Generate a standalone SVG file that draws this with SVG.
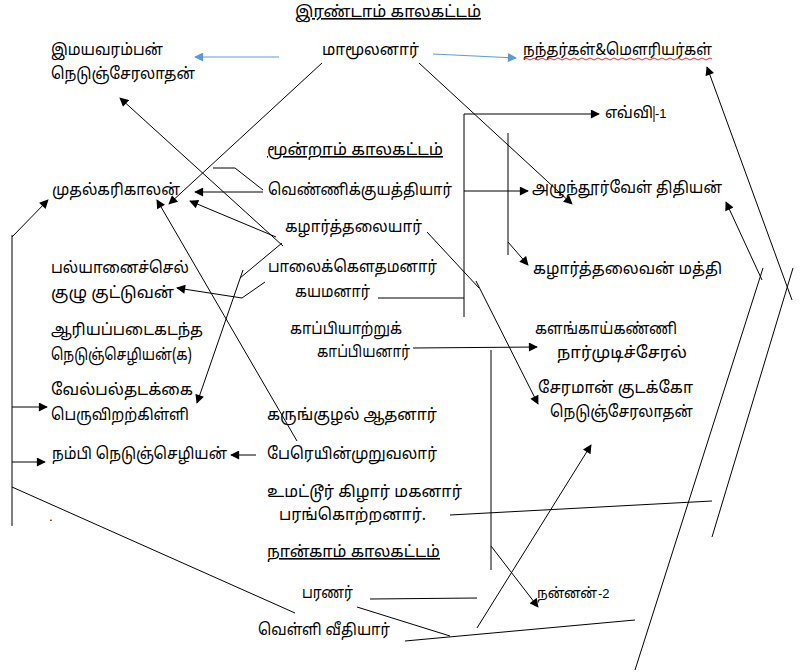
<svg xmlns="http://www.w3.org/2000/svg" width="803" height="672" viewBox="0 0 803 672">
<defs>
<marker id="ah" viewBox="0 0 10 10" refX="9" refY="5" markerWidth="10" markerHeight="9" markerUnits="userSpaceOnUse" orient="auto"><path d="M0,0 L10,5 L0,10 Z" fill="#000"/></marker>
<marker id="ahb" viewBox="0 0 10 10" refX="9" refY="5" markerWidth="12" markerHeight="9" markerUnits="userSpaceOnUse" orient="auto"><path d="M0,0 L10,5 L0,10 Z" fill="#5b9bd5"/></marker>
</defs>
<style>
text{font-family:"Noto Sans Tamil","Latha","Noto Sans","DejaVu Sans",sans-serif;font-size:16px;fill:#000}
.sm{font-family:"Liberation Sans",Arial,sans-serif;font-size:13px}
.ul{text-decoration:underline}
line,polyline{stroke:#000;stroke-width:1;fill:none}
.a{marker-end:url(#ah)}
.b{stroke:#5b9bd5;marker-end:url(#ahb)}
</style>
<rect width="803" height="672" fill="#fff"/>
<g id="headings">
<text id="h2" x="295" y="17" class="ul" textLength="186" lengthAdjust="spacingAndGlyphs">இரண்டாம் காலகட்டம்</text>
<text id="h3" x="267" y="155" class="ul" textLength="176" lengthAdjust="spacingAndGlyphs">மூன்றாம் காலகட்டம்</text>
<text id="h4" x="267" y="557" class="ul" textLength="173" lengthAdjust="spacingAndGlyphs">நான்காம் காலகட்டம்</text>
</g>
<g id="n-imayavaramban"><text x="51" y="55" textLength="112" lengthAdjust="spacingAndGlyphs">இமயவரம்பன்</text><text x="51" y="79" textLength="144" lengthAdjust="spacingAndGlyphs">நெடுஞ்சேரலாதன்</text></g>
<g id="n-mamulanar"><text x="322" y="55" textLength="97" lengthAdjust="spacingAndGlyphs">மாமூலனார்</text></g>
<g id="n-nandar"><text x="523" y="55" textLength="189" lengthAdjust="spacingAndGlyphs">நந்தர்கள்&amp;மௌரியர்கள்</text><path d="M524,59 q2,-2 4,0 t4,0 t4,0 t4,0 t4,0 t4,0 t4,0 t4,0 t4,0 t4,0 t4,0 t4,0 t4,0 t4,0 t4,0 t4,0 t4,0 t4,0 t4,0 t4,0 t4,0 t4,0 t4,0 t4,0 t4,0 t4,0 t4,0 t4,0 t4,0 t4,0 t4,0 t4,0 t4,0 t4,0 t4,0 t4,0 t4,0 t4,0 t4,0 t4,0 t4,0 t4,0 t4,0 t4,0 t4,0 t4,0 t4,0" stroke="#e03030" stroke-width="1" fill="none"/></g>
<g id="n-evvi"><text x="605" y="118" textLength="48" lengthAdjust="spacingAndGlyphs">எவ்வி</text><line x1="654" y1="106" x2="654" y2="122" stroke="#000"/><text x="655" y="118" class="sm">-1</text></g>
<g id="n-mudhalkarikalan"><text x="52" y="195" textLength="128" lengthAdjust="spacingAndGlyphs">முதல்கரிகாலன்</text></g>
<g id="n-venni"><text x="268" y="195" textLength="184" lengthAdjust="spacingAndGlyphs">வெண்ணிக்குயத்தியார்</text></g>
<g id="n-azhundur"><text x="532" y="193" textLength="190" lengthAdjust="spacingAndGlyphs">அழுந்தூர்வேள் திதியன்</text></g>
<g id="n-kazhar"><text x="285" y="232" textLength="137" lengthAdjust="spacingAndGlyphs">கழார்த்தலையார்</text></g>
<g id="n-palyanai"><text x="51" y="273" textLength="138" lengthAdjust="spacingAndGlyphs">பல்யானைச்செல்</text><text x="51" y="298" textLength="123" lengthAdjust="spacingAndGlyphs">குழு குட்டுவன்</text></g>
<g id="n-palai"><text x="268" y="272" textLength="169" lengthAdjust="spacingAndGlyphs">பாலைக்கௌதமனார்</text></g>
<g id="n-kayamanar"><text x="295" y="297" textLength="75" lengthAdjust="spacingAndGlyphs">கயமனார்</text></g>
<g id="n-matti"><text x="533" y="274" textLength="189" lengthAdjust="spacingAndGlyphs">கழார்த்தலைவன் மத்தி</text></g>
<g id="n-ariya"><text x="51" y="335" textLength="152" lengthAdjust="spacingAndGlyphs">ஆரியப்படைகடந்த</text><text x="51" y="360" textLength="141" lengthAdjust="spacingAndGlyphs">நெடுஞ்செழியன்(க)</text></g>
<g id="n-kappiyar"><text x="290" y="334" textLength="112" lengthAdjust="spacingAndGlyphs">காப்பியாற்றுக்</text><text x="317" y="357" textLength="93" lengthAdjust="spacingAndGlyphs">காப்பியனார்</text></g>
<g id="n-kalangai"><text x="535" y="334" textLength="142" lengthAdjust="spacingAndGlyphs">களங்காய்கண்ணி</text><text x="557" y="358" textLength="130" lengthAdjust="spacingAndGlyphs">நார்முடிச்சேரல்</text></g>
<g id="n-vel"><text x="51" y="395" textLength="142" lengthAdjust="spacingAndGlyphs">வேல்பல்தடக்கை</text><text x="51" y="420" textLength="138" lengthAdjust="spacingAndGlyphs">பெருவிறற்கிள்ளி</text></g>
<g id="n-karungkuzhal"><text x="267" y="420" textLength="170" lengthAdjust="spacingAndGlyphs">கருங்குழல் ஆதனார்</text></g>
<g id="n-cheraman"><text x="538" y="393" textLength="155" lengthAdjust="spacingAndGlyphs">சேரமான் குடக்கோ</text><text x="550" y="417" textLength="143" lengthAdjust="spacingAndGlyphs">நெடுஞ்சேரலாதன்</text></g>
<g id="n-nambi"><text x="52" y="459" textLength="175" lengthAdjust="spacingAndGlyphs">நம்பி நெடுஞ்செழியன்</text></g>
<g id="n-pereyin"><text x="267" y="459" textLength="170" lengthAdjust="spacingAndGlyphs">பேரெயின்முறுவலார்</text></g>
<g id="n-umattur"><text x="267" y="497" textLength="195" lengthAdjust="spacingAndGlyphs">உமட்டூர் கிழார் மகனார்</text><text x="279" y="520" textLength="147" lengthAdjust="spacingAndGlyphs">பரங்கொற்றனார்.</text></g>
<g id="n-dot"><text x="49" y="521" class="sm">.</text></g>
<g id="n-paranar"><text x="302" y="598" textLength="51" lengthAdjust="spacingAndGlyphs">பரணர்</text></g>
<g id="n-nannan"><text x="537" y="598" style="font-size:14px" textLength="60" lengthAdjust="spacingAndGlyphs">நன்னன்</text><text x="598" y="598" class="sm">-2</text></g>
<g id="n-velli"><text x="258" y="635" textLength="132" lengthAdjust="spacingAndGlyphs">வெள்ளி வீதியார்</text></g>
<g id="connectors">
<line class="b" x1="279" y1="57" x2="195" y2="57"/>
<line class="b" x1="433" y1="54" x2="516" y2="58"/>
<line class="a" x1="322" y1="63" x2="169" y2="204"/>
<line class="a" x1="419" y1="63" x2="572" y2="204"/>
<line class="a" x1="283" y1="246" x2="120" y2="98"/>
<polyline points="213,168 235,168 263,190"/>
<line class="a" x1="263" y1="192" x2="195" y2="192"/>
<line class="a" x1="276" y1="237" x2="190" y2="201"/>
<line x1="282" y1="243" x2="240" y2="278"/>
<line class="a" x1="243" y1="270" x2="197" y2="403"/>
<polyline class="a" points="265,282 242,298 177,288"/>
<line class="a" x1="297" y1="441" x2="157" y2="200"/>
<line class="a" x1="256" y1="455" x2="231" y2="455"/>
<line x1="12" y1="235" x2="12" y2="526"/>
<line class="a" x1="12" y1="237" x2="48" y2="200"/>
<line class="a" x1="12" y1="407" x2="47" y2="407"/>
<line class="a" x1="12" y1="462" x2="45" y2="462"/>
<line x1="12" y1="487" x2="295" y2="613"/>
<line x1="464" y1="114" x2="464" y2="317"/>
<line class="a" x1="464" y1="114" x2="599" y2="114"/>
<line class="a" x1="464" y1="191" x2="528" y2="191"/>
<line x1="378" y1="298" x2="464" y2="298"/>
<line x1="508" y1="133" x2="508" y2="255"/>
<line class="a" x1="508" y1="242" x2="528" y2="265"/>
<line x1="427" y1="232" x2="479" y2="288"/>
<line class="a" x1="476" y1="281" x2="538" y2="404"/>
<line class="a" x1="413" y1="348" x2="537" y2="347"/>
<line x1="491" y1="350" x2="491" y2="570"/>
<line class="a" x1="491" y1="546" x2="538" y2="607"/>
<line class="a" x1="477" y1="628" x2="591" y2="445"/>
<line x1="450" y1="515" x2="712" y2="501"/>
<line x1="370" y1="599" x2="477" y2="598"/>
<line x1="357" y1="607" x2="450" y2="636"/>
<line x1="405" y1="641" x2="635" y2="620"/>
<line class="a" x1="792" y1="300" x2="707" y2="67"/>
<line class="a" x1="762" y1="280" x2="726" y2="202"/>
<line x1="763" y1="268" x2="635" y2="670"/>
<line x1="793" y1="268" x2="712" y2="537"/>
</g>
</svg>
